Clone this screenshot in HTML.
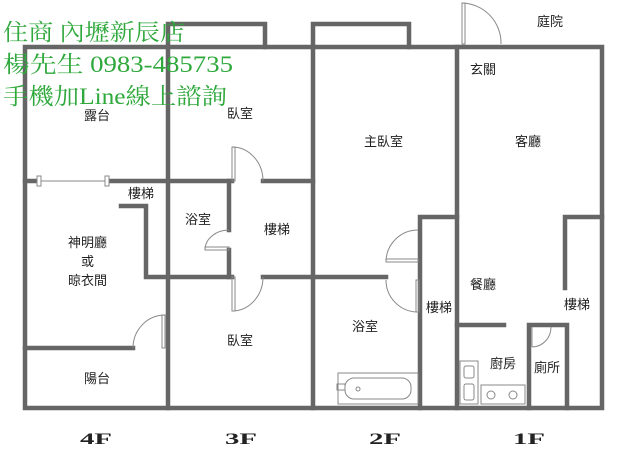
<!DOCTYPE html>
<html><head><meta charset="utf-8"><style>
body{margin:0;background:#fff;width:638px;height:460px;overflow:hidden}
svg{display:block}
.l{font-family:"Liberation Sans","Noto Sans CJK TC",sans-serif;font-size:13px;fill:#222}
.g{font-family:"Liberation Serif","Noto Serif CJK SC",serif;font-size:23px;fill:#2fa83c}
.f{font-family:"Liberation Serif",serif;font-size:16px;font-weight:bold;fill:#222}
</style></head><body>
<svg width="638" height="460" xmlns="http://www.w3.org/2000/svg">
<g stroke="#666" stroke-width="4.5" fill="none" stroke-linecap="square">
<path d="M25 47H602V408H25Z"/>
<path d="M168 47V24H265V47"/>
<path d="M313 47V24H409V47"/>
<path d="M168 47V408M313 47V408M457 47V408"/>
<path d="M25 181H39M107 181H168"/>
<path d="M168 181H232M263 181H313"/>
<path d="M121 206H146V277H232M263 277H313"/>
<path d="M229 181V230M229 250V277"/>
<path d="M25 348H133"/>
<path d="M313 277H386"/>
<path d="M420 217H457M420 217V408"/>
<path d="M457 325H504"/>
<path d="M565 217H602M565 217V288"/>
<path d="M529 325V408M529 325H567V408"/>
</g>
<g stroke="#888" stroke-width="1" fill="none">
<path d="M39 181H107"/>
<rect x="37" y="176" width="4" height="10" fill="#fff"/>
<rect x="105" y="176" width="4" height="10" fill="#fff"/>
<path d="M462 3V44H465V3Z M462 3A40 40 0 0 1 501 44"/>
<path d="M232 147V181H235V147Z M232 147A31 34 0 0 1 263 181"/>
<path d="M232 277V311H235V277Z M232 311A31 34 0 0 0 263 277"/>
<path d="M205 250H229V247H205Z M205 250A24 20 0 0 1 229 230"/>
<path d="M165 315V348H162V315Z M165 315A32 33 0 0 0 133 348"/>
<path d="M386 262H418V259H386Z M386 262A32 32 0 0 1 418 230"/>
<path d="M416 280V312H419V280Z M416 312A32 32 0 0 1 386 280"/>
<path d="M532 327V347M532 347A19 20 0 0 0 551 327"/>
<rect x="338" y="373" width="80" height="31"/>
<rect x="345" y="378" width="66" height="21" rx="9"/>
<rect x="337" y="384" width="8" height="6"/>
<circle cx="358" cy="389" r="2"/>
<rect x="460" y="361" width="18" height="43"/>
<rect x="464" y="366" width="10" height="12" rx="2"/>
<rect x="464" y="384" width="10" height="16" rx="2"/>
<rect x="481" y="385" width="44" height="19"/>
<circle cx="491" cy="395" r="4"/><circle cx="513" cy="395" r="4"/>
</g>
<g class="l">
<text x="84" y="120">露台</text>
<text x="227" y="118">臥室</text>
<text x="128" y="198">樓梯</text>
<text x="185" y="224">浴室</text>
<text x="264" y="234">樓梯</text>
<text x="68" y="247">神明廳</text>
<text x="81" y="266">或</text>
<text x="68" y="285">晾衣間</text>
<text x="227" y="345">臥室</text>
<text x="84" y="383">陽台</text>
<text x="364" y="146">主臥室</text>
<text x="352" y="331">浴室</text>
<text x="426" y="312">樓梯</text>
<text x="537" y="26">庭院</text>
<text x="470" y="74">玄關</text>
<text x="515" y="146">客廳</text>
<text x="470" y="289">餐廳</text>
<text x="564" y="309">樓梯</text>
<text x="490" y="368">廚房</text>
<text x="534" y="372">廁所</text>
</g>
<g class="g">
<text x="3" y="40" textLength="182" lengthAdjust="spacingAndGlyphs">住商 內壢新辰店</text>
<text x="3" y="72" textLength="230" lengthAdjust="spacingAndGlyphs">楊先生 0983-485735</text>
<text x="3" y="104" textLength="224" lengthAdjust="spacingAndGlyphs">手機加Line線上諮詢</text>
</g>
<g class="f">
<text x="80" y="444" textLength="32" lengthAdjust="spacingAndGlyphs">4F</text>
<text x="225" y="444" textLength="32" lengthAdjust="spacingAndGlyphs">3F</text>
<text x="369" y="444" textLength="32" lengthAdjust="spacingAndGlyphs">2F</text>
<text x="513" y="444" textLength="32" lengthAdjust="spacingAndGlyphs">1F</text>
</g>
</svg>
</body></html>
